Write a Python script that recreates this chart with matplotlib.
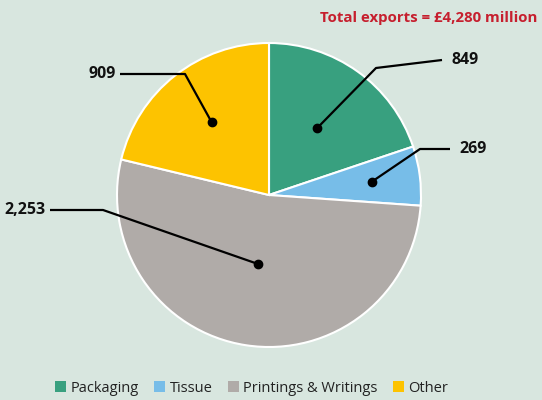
import numpy as np
import matplotlib.pyplot as plt
from matplotlib.patches import Patch

categories = ["Packaging", "Tissue", "Printings & Writings", "Other"]
values = [849, 269, 2253, 909]
colors = ["#38a07f", "#77bde8", "#b0aba8", "#fdc300"]
total_label = "Total exports = £4,280 million"

# dot radius (fraction of R), elbow point and label anchor in pixel units
dot_r = [0.54, 0.68, 0.46, 0.61]
elbows = [(376, 332), (420, 251), (103, 190), (185, 326)]
label_ends = [(442, 340), (450, 251), (50, 190), (120, 326)]
label_ha = ["left", "left", "right", "right"]

bg = "#d8e6df"
plt.rcParams["font.family"] = ["Open Sans", "DejaVu Sans"]

fig = plt.figure(figsize=(5.42, 4.0), dpi=100, facecolor=bg)
ax = fig.add_axes([0, 0, 1, 1])
ax.set_facecolor(bg)

cx, cy, R = 269, 205, 152
wedges, _ = ax.pie(values, colors=colors, startangle=90, counterclock=False,
                   center=(cx, cy), radius=R,
                   wedgeprops=dict(edgecolor="white", linewidth=1.5))
ax.set_xlim(0, 542)
ax.set_ylim(0, 400)
ax.set_aspect("equal")
ax.axis("off")

for i, w in enumerate(wedges):
    mid = np.deg2rad((w.theta1 + w.theta2) / 2)
    dx = cx + dot_r[i] * R * np.cos(mid)
    dy = cy + dot_r[i] * R * np.sin(mid)
    ex, ey = elbows[i]
    lx, ly = label_ends[i]
    ax.plot([dx, ex, lx], [dy, ey, ly], color="black", lw=1.6,
            solid_capstyle="butt", zorder=3)
    ax.plot(dx, dy, "o", color="black", ms=6, zorder=4)
    off = 9 if label_ha[i] == "left" else -4
    ax.text(lx + off, ly, f"{values[i]:,}", ha=label_ha[i], va="center",
            fontsize=11.5, fontweight="bold", color="#111111")

ax.text(537, 382, total_label, ha="right", va="center", fontsize=10.8,
        fontweight="bold", color="#c61f2e")

handles = [Patch(facecolor=c, edgecolor="none") for c in colors]
fig.legend(handles, categories, loc="lower center", bbox_to_anchor=(0.464, -0.022),
           ncol=4, frameon=False, fontsize=10.5, handlelength=0.75,
           handleheight=0.75, handletextpad=0.3, columnspacing=1.05,
           labelcolor="#222222")

fig.savefig("out.png", dpi=100, facecolor=bg)
